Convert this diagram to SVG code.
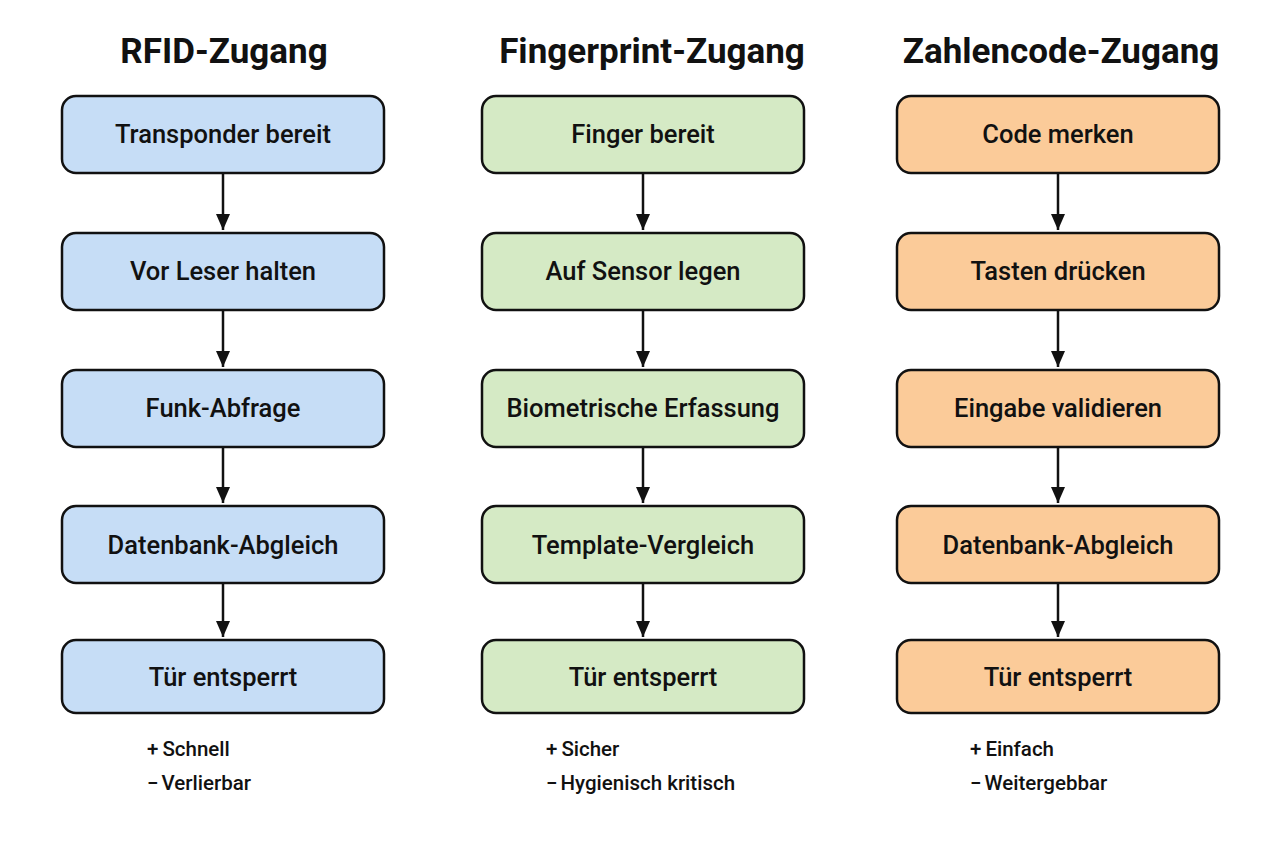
<svg xmlns="http://www.w3.org/2000/svg" width="1280" height="853" viewBox="0 0 1280 853">
<style>
.title{font-family:Roboto,"Liberation Sans",sans-serif;font-weight:700;font-size:35px;fill:#111;text-anchor:middle}
.lbl{font-family:Roboto,"Liberation Sans",sans-serif;font-weight:500;font-size:25.5px;fill:#111;text-anchor:middle}
.note{font-family:Roboto,"Liberation Sans",sans-serif;font-weight:500;font-size:20.5px;fill:#111}
.box{stroke:#111;stroke-width:2.5}
.b{fill:#c6ddf6}.g{fill:#d5eac5}.o{fill:#fbcb99}
.con{stroke:#111;stroke-width:2.5;fill:none}
</style>
<defs>
<marker id="arr" viewBox="0 0 16 14" refX="16" refY="7" markerWidth="16" markerHeight="14" markerUnits="userSpaceOnUse" orient="auto">
<path d="M0,0 L16,7 L0,14 z" fill="#111"/>
</marker>
</defs>
<rect width="1280" height="853" fill="#ffffff"/>
<text class="title" x="224" y="63">RFID-Zugang</text>
<text class="title" x="652" y="63">Fingerprint-Zugang</text>
<text class="title" x="1061" y="63">Zahlencode-Zugang</text>

<g id="connectors">
<line class="con" x1="223" y1="174" x2="223" y2="230" marker-end="url(#arr)"/>
<line class="con" x1="223" y1="311" x2="223" y2="367" marker-end="url(#arr)"/>
<line class="con" x1="223" y1="447" x2="223" y2="503" marker-end="url(#arr)"/>
<line class="con" x1="223" y1="584" x2="223" y2="637" marker-end="url(#arr)"/>
<line class="con" x1="643" y1="174" x2="643" y2="230" marker-end="url(#arr)"/>
<line class="con" x1="643" y1="311" x2="643" y2="367" marker-end="url(#arr)"/>
<line class="con" x1="643" y1="447" x2="643" y2="503" marker-end="url(#arr)"/>
<line class="con" x1="643" y1="584" x2="643" y2="637" marker-end="url(#arr)"/>
<line class="con" x1="1058" y1="174" x2="1058" y2="230" marker-end="url(#arr)"/>
<line class="con" x1="1058" y1="311" x2="1058" y2="367" marker-end="url(#arr)"/>
<line class="con" x1="1058" y1="447" x2="1058" y2="503" marker-end="url(#arr)"/>
<line class="con" x1="1058" y1="584" x2="1058" y2="637" marker-end="url(#arr)"/>
</g>

<g id="rfid1"><rect class="box b" x="62" y="96" width="322" height="77" rx="14"/><text class="lbl" x="223" y="143">Transponder bereit</text></g>
<g id="rfid2"><rect class="box b" x="62" y="233" width="322" height="77" rx="14"/><text class="lbl" x="223" y="280">Vor Leser halten</text></g>
<g id="rfid3"><rect class="box b" x="62" y="370" width="322" height="77" rx="14"/><text class="lbl" x="223" y="417">Funk-Abfrage</text></g>
<g id="rfid4"><rect class="box b" x="62" y="506" width="322" height="77" rx="14"/><text class="lbl" x="223" y="554">Datenbank-Abgleich</text></g>
<g id="rfid5"><rect class="box b" x="62" y="640" width="322" height="73" rx="14"/><text class="lbl" x="223" y="686">Tür entsperrt</text></g>

<g id="fp1"><rect class="box g" x="482" y="96" width="322" height="77" rx="14"/><text class="lbl" x="643" y="143">Finger bereit</text></g>
<g id="fp2"><rect class="box g" x="482" y="233" width="322" height="77" rx="14"/><text class="lbl" x="643" y="280">Auf Sensor legen</text></g>
<g id="fp3"><rect class="box g" x="482" y="370" width="322" height="77" rx="14"/><text class="lbl" x="643" y="417">Biometrische Erfassung</text></g>
<g id="fp4"><rect class="box g" x="482" y="506" width="322" height="77" rx="14"/><text class="lbl" x="643" y="554">Template-Vergleich</text></g>
<g id="fp5"><rect class="box g" x="482" y="640" width="322" height="73" rx="14"/><text class="lbl" x="643" y="686">Tür entsperrt</text></g>

<g id="zc1"><rect class="box o" x="897" y="96" width="322" height="77" rx="14"/><text class="lbl" x="1058" y="143">Code merken</text></g>
<g id="zc2"><rect class="box o" x="897" y="233" width="322" height="77" rx="14"/><text class="lbl" x="1058" y="280">Tasten drücken</text></g>
<g id="zc3"><rect class="box o" x="897" y="370" width="322" height="77" rx="14"/><text class="lbl" x="1058" y="417">Eingabe validieren</text></g>
<g id="zc4"><rect class="box o" x="897" y="506" width="322" height="77" rx="14"/><text class="lbl" x="1058" y="554">Datenbank-Abgleich</text></g>
<g id="zc5"><rect class="box o" x="897" y="640" width="322" height="73" rx="14"/><text class="lbl" x="1058" y="686">Tür entsperrt</text></g>

<g id="notes">
<text class="note" x="147" y="756">+<tspan dx="4">Schnell</tspan></text>
<text class="note" x="147" y="790">−<tspan dx="3">Verlierbar</tspan></text>
<text class="note" x="546" y="756">+<tspan dx="4">Sicher</tspan></text>
<text class="note" x="546" y="790">−<tspan dx="3">Hygienisch kritisch</tspan></text>
<text class="note" x="970" y="756">+<tspan dx="4">Einfach</tspan></text>
<text class="note" x="970" y="790">−<tspan dx="3">Weitergebbar</tspan></text>
</g>
</svg>
